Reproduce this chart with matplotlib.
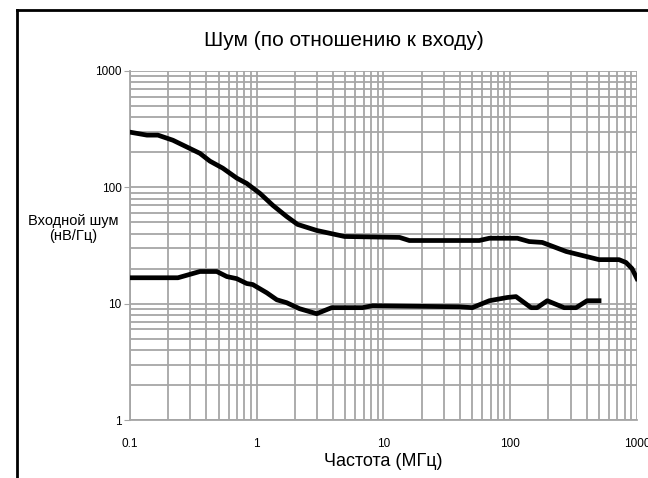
import matplotlib
matplotlib.use("Agg")
import matplotlib.pyplot as plt
from matplotlib.ticker import LogLocator, NullFormatter, FixedFormatter, FixedLocator
from matplotlib.lines import Line2D

plt.rcParams['font.family'] = ['Liberation Sans', 'DejaVu Sans']

# upper curve (МГц, нВ/Гц)
freq_hi = [0.1, 0.136, 0.166, 0.218, 0.356, 0.427, 0.54, 0.696, 0.834, 1.06, 1.34, 1.72,
           2.10, 2.97, 4.93, 13.4, 16.0, 57.0, 68.4, 114, 141, 179, 276, 502, 721, 819, 914, 1000]
noise_hi = [298, 281, 281, 254, 196, 168, 146, 120, 108, 88.7, 70, 56.2,
            48, 42.6, 37.8, 37.1, 34.9, 34.9, 36.5, 36.5, 34.2, 33.6, 28.1, 23.9, 23.9, 22.6, 20.0, 16.4]

# lower curve
freq_lo = [0.1, 0.239, 0.356, 0.484, 0.581, 0.696, 0.834, 0.93, 1.20, 1.44, 1.72, 2.18,
           2.97, 3.90, 6.83, 8.19, 39.7, 50.2, 68.4, 94.7, 111, 146, 163, 196, 266, 331, 404, 502]
noise_lo = [16.7, 16.7, 18.9, 18.9, 17.1, 16.4, 14.9, 14.6, 12.4, 10.8, 10.2, 9.05,
            8.2, 9.24, 9.24, 9.6, 9.4, 9.24, 10.6, 11.3, 11.5, 9.24, 9.24, 10.6, 9.24, 9.24, 10.6, 10.6]

x_ticks = [0.1, 1, 10, 100, 1000]
x_labels = ['0.1', '1', '10', '100', '1000']
y_ticks = [1, 10, 100, 1000]
y_labels = ['1', '10', '100', '1000']

fig = plt.figure(figsize=(6.48, 4.78), dpi=100)
ax = fig.add_axes([0.2006, 0.1213, 0.7824, 0.7302])

grid_col = '#a6a6a6'
ax.plot(freq_hi, noise_hi, color='black', lw=3.4, solid_joinstyle='round', zorder=3)
ax.plot(freq_lo, noise_lo, color='black', lw=3.4, solid_joinstyle='round', zorder=3)

ax.set_xscale('log')
ax.set_yscale('log')
ax.set_xlim(0.1, 1000)
ax.set_ylim(1, 1000)

ax.xaxis.set_major_locator(FixedLocator(x_ticks))
ax.xaxis.set_major_formatter(FixedFormatter(x_labels))
ax.yaxis.set_major_locator(FixedLocator(y_ticks))
ax.yaxis.set_major_formatter(FixedFormatter(y_labels))
ax.xaxis.set_minor_locator(LogLocator(base=10, subs=range(2, 10)))
ax.yaxis.set_minor_locator(LogLocator(base=10, subs=range(2, 10)))
ax.xaxis.set_minor_formatter(NullFormatter())
ax.yaxis.set_minor_formatter(NullFormatter())

ax.grid(True, which='both', color=grid_col, lw=1.3)
ax.set_axisbelow(True)
for s in ['top', 'right']:
    ax.spines[s].set_visible(False)
for s in ['left', 'bottom']:
    ax.spines[s].set_color(grid_col)
    ax.spines[s].set_linewidth(1.3)

ax.tick_params(axis='both', which='major', length=4, color=grid_col, labelsize=8.5, pad=2)
ax.tick_params(axis='x', which='major', length=0, pad=13)
ax.tick_params(axis='both', which='minor', length=0)

ax.set_xlabel('Частота (МГц)', fontsize=13, labelpad=2)
fig.text(0.53, 0.915, 'Шум (по отношению к входу)', fontsize=15, ha='center', va='center')
fig.text(0.113, 0.522, 'Входной шум\n(нВ/Гц)', fontsize=10.5, ha='center', va='center',
         linespacing=1.1)

# outer frame
fig.add_artist(Line2D([17 / 648, 17 / 648], [0, 1 - 10 / 478], transform=fig.transFigure,
                      color='black', lw=2))
fig.add_artist(Line2D([17 / 648, 1], [1 - 10 / 478, 1 - 10 / 478], transform=fig.transFigure,
                      color='black', lw=2))

fig.savefig('out.png', dpi=100)
